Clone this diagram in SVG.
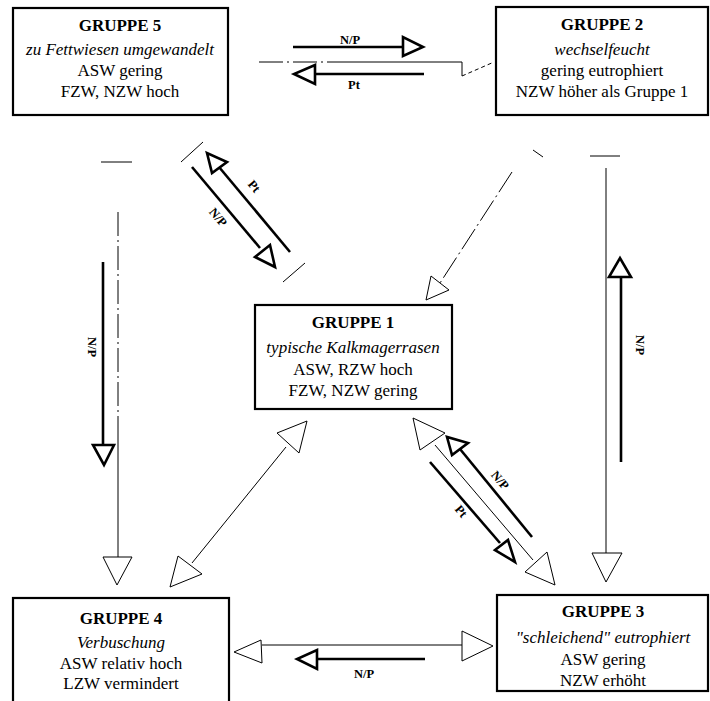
<svg xmlns="http://www.w3.org/2000/svg" width="710" height="701" viewBox="0 0 710 701">
<style>
.box{fill:#fff;stroke:#000;stroke-width:2.2}
.t{font-family:"Liberation Serif","Times New Roman",serif;font-size:17px;text-anchor:middle;fill:#000}
.b{font-weight:bold}
.i{font-style:italic}
.thin{stroke:#000;stroke-width:1;fill:none}
.dash{stroke:#000;stroke-width:1;fill:none;stroke-dasharray:24 4 2 4}
.thick{stroke:#000;stroke-width:2.6;fill:none}
.oh{fill:#fff;stroke:#000;stroke-width:1}
.th{fill:#fff;stroke:#000;stroke-width:2.6;stroke-linejoin:miter}
.lbl{font-family:"Liberation Serif","Times New Roman",serif;font-size:12.5px;font-weight:bold;text-anchor:middle;fill:#000}
</style>
<rect width="710" height="701" fill="#fff"/>
<g id="connectors">
  <!-- 5 <-> 2 -->
  <line class="dash" x1="259" y1="62" x2="330" y2="62"/>
  <line class="thin" x1="330" y1="62" x2="462" y2="62"/>
  <polyline class="dash" points="462,62 462,76"/>
  <line class="thin" x1="462" y1="76" x2="494" y2="62" stroke-dasharray="4 3"/>
  <line class="thick" x1="293" y1="47" x2="403" y2="47"/>
  <polygon class="th" points="403,37 403,56 423,47"/>
  <text class="lbl" x="350" y="44">N/P</text>
  <line class="thick" x1="315" y1="74" x2="424" y2="74"/>
  <polygon class="th" points="315,65 315,84 294,74"/>
  <text class="lbl" x="354" y="89">Pt</text>

  <!-- 5 <-> 1 -->
  <line class="thin" x1="181" y1="162" x2="203" y2="142"/>
  <line class="thin" x1="283" y1="282" x2="305" y2="263"/>
  <line class="thick" x1="219" y1="167" x2="290" y2="252"/>
  <polygon class="th" points="207,153 212,173 227,162"/>
  <line class="thick" x1="192" y1="167" x2="260" y2="248"/>
  <polygon class="th" points="255,257 270,245 275,267"/>
  <text class="lbl" transform="translate(251,189) rotate(50)">Pt</text>
  <text class="lbl" transform="translate(215,220) rotate(50)">N/P</text>

  <!-- 5 <-> 4 -->
  <line class="thin" x1="101" y1="162" x2="132" y2="162"/>
  <line class="dash" x1="118" y1="212" x2="118" y2="440"/>
  <line class="thin" x1="118" y1="440" x2="118" y2="557"/>
  <polygon class="oh" points="103,557 132,557 117,585"/>
  <line class="thick" x1="103" y1="262" x2="103" y2="445"/>
  <polygon class="th" points="93,445 114,445 104,465"/>
  <text class="lbl" transform="translate(88,347) rotate(90)">N/P</text>

  <!-- 2 -> 1 -->
  <line class="thin" x1="533" y1="150" x2="543" y2="157"/>
  <line class="dash" x1="512" y1="172" x2="440" y2="283"/>
  <polygon class="oh" points="449,290 431,276 426,300"/>

  <!-- 2 <-> 3 -->
  <line class="thin" x1="590" y1="156" x2="620" y2="156"/>
  <line class="thin" x1="606" y1="168" x2="606" y2="553"/>
  <polygon class="oh" points="592,553 622,553 606,582"/>
  <line class="thick" x1="621" y1="462" x2="621" y2="277"/>
  <polygon class="th" points="609,277 631,277 620,258"/>
  <text class="lbl" transform="translate(636,345) rotate(90)">N/P</text>

  <!-- 1 <-> 4 -->
  <line class="thin" x1="286" y1="447" x2="192" y2="563"/>
  <polygon class="oh" points="307,421 277,433 299,453"/>
  <polygon class="oh" points="170,587 178,556 202,574"/>

  <!-- 1 <-> 3 -->
  <line class="thin" x1="435" y1="445" x2="533" y2="560"/>
  <polygon class="oh" points="413,418 420,450 445,433"/>
  <polygon class="oh" points="555,585 525,572 547,552"/>
  <line class="thick" x1="460" y1="449" x2="532" y2="537"/>
  <polygon class="th" points="447,437 452,455 468,443"/>
  <line class="thick" x1="430" y1="462" x2="500" y2="543"/>
  <polygon class="th" points="495,550 508,540 515,562"/>
  <text class="lbl" transform="translate(497,483) rotate(50)">N/P</text>
  <text class="lbl" transform="translate(458,514) rotate(50)">Pt</text>

  <!-- 4 <-> 3 -->
  <line class="thin" x1="262" y1="645" x2="462" y2="645"/>
  <polygon class="oh" points="462,631 462,661 493,646"/>
  <polygon class="oh" points="261,640 262,663 234,652"/>
  <line class="thick" x1="317" y1="659" x2="425" y2="659"/>
  <polygon class="th" points="317,650 317,669 297,659"/>
  <text class="lbl" x="364" y="678">N/P</text>
</g>
<g id="gruppe5">
  <rect class="box" x="13" y="8" width="215" height="107"/>
  <text class="t b" x="120" y="31">GRUPPE 5</text>
  <text class="t i" x="120" y="55">zu Fettwiesen umgewandelt</text>
  <text class="t" x="120" y="76">ASW gering</text>
  <text class="t" x="120" y="97">FZW, NZW hoch</text>
</g>
<g id="gruppe2">
  <rect class="box" x="496" y="7" width="212" height="108"/>
  <text class="t b" x="602" y="30">GRUPPE 2</text>
  <text class="t i" x="602" y="55">wechselfeucht</text>
  <text class="t" x="602" y="76">gering eutrophiert</text>
  <text class="t" x="602" y="97">NZW höher als Gruppe 1</text>
</g>
<g id="gruppe1">
  <rect class="box" x="255" y="305" width="197" height="104"/>
  <text class="t b" x="353" y="328">GRUPPE 1</text>
  <text class="t i" x="353" y="353">typische Kalkmagerrasen</text>
  <text class="t" x="353" y="375">ASW, RZW hoch</text>
  <text class="t" x="353" y="396">FZW, NZW gering</text>
</g>
<g id="gruppe4">
  <rect class="box" x="13" y="598" width="216" height="110"/>
  <text class="t b" x="121" y="624">GRUPPE 4</text>
  <text class="t i" x="121" y="648">Verbuschung</text>
  <text class="t" x="121" y="669">ASW relativ hoch</text>
  <text class="t" x="121" y="689">LZW vermindert</text>
</g>
<g id="gruppe3">
  <rect class="box" x="497" y="595" width="211" height="96"/>
  <text class="t b" x="603" y="617">GRUPPE 3</text>
  <text class="t i" x="603" y="643">"schleichend" eutrophiert</text>
  <text class="t" x="603" y="665">ASW gering</text>
  <text class="t" x="603" y="686">NZW erhöht</text>
</g>
</svg>
